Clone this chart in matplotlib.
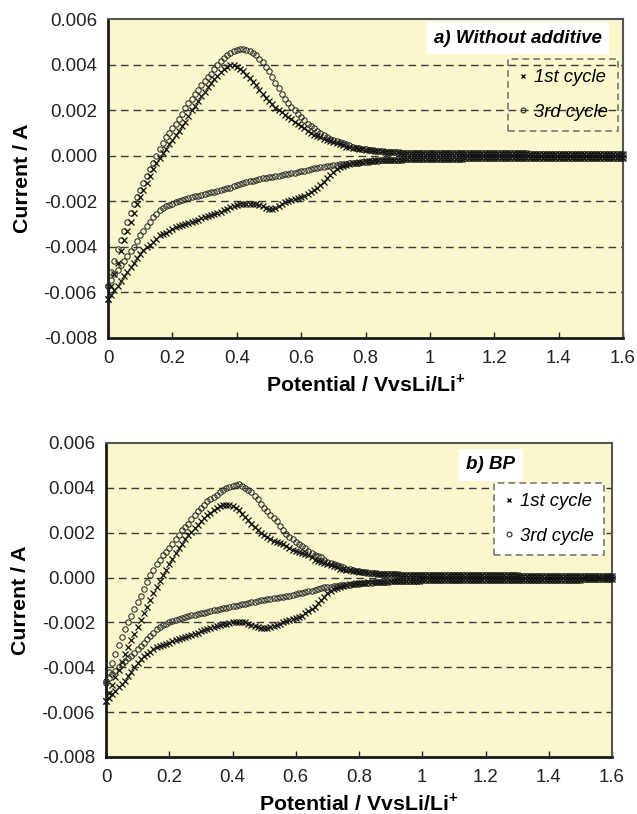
import matplotlib
matplotlib.use("Agg")
import matplotlib.pyplot as plt
from matplotlib.lines import Line2D

plt.rcParams['font.family'] = ['Liberation Sans', 'DejaVu Sans']
plt.rcParams['axes.unicode_minus'] = False
plt.rcParams['mathtext.fontset'] = 'custom'
plt.rcParams['mathtext.rm'] = 'Liberation Sans'
plt.rcParams['mathtext.bf'] = 'Liberation Sans:bold'

# ---------------- data ----------------
potential = [0.00, 0.01, 0.02, 0.03, 0.04, 0.05, 0.06, 0.07, 0.08, 0.09,
             0.10, 0.11, 0.12, 0.13, 0.14, 0.15, 0.16, 0.17, 0.18, 0.19,
             0.20, 0.21, 0.22, 0.23, 0.24, 0.25, 0.26, 0.27, 0.28, 0.29,
             0.30, 0.31, 0.32, 0.33, 0.34, 0.35, 0.36, 0.37, 0.38, 0.39,
             0.40, 0.41, 0.42, 0.43, 0.44, 0.45, 0.46, 0.47, 0.48, 0.49,
             0.50, 0.51, 0.52, 0.53, 0.54, 0.55, 0.56, 0.57, 0.58, 0.59,
             0.60, 0.61, 0.62, 0.63, 0.64, 0.65, 0.66, 0.67, 0.68, 0.69,
             0.70, 0.71, 0.72, 0.73, 0.74, 0.75, 0.76, 0.77, 0.78, 0.79,
             0.80, 0.81, 0.82, 0.83, 0.84, 0.85, 0.86, 0.87, 0.88, 0.89,
             0.90, 0.91, 0.92, 0.93, 0.94, 0.95, 0.96, 0.97, 0.98, 0.99,
             1.00, 1.01, 1.02, 1.03, 1.04, 1.05, 1.06, 1.07, 1.08, 1.09,
             1.10, 1.11, 1.12, 1.13, 1.14, 1.15, 1.16, 1.17, 1.18, 1.19,
             1.20, 1.21, 1.22, 1.23, 1.24, 1.25, 1.26, 1.27, 1.28, 1.29,
             1.30, 1.31, 1.32, 1.33, 1.34, 1.35, 1.36, 1.37, 1.38, 1.39,
             1.40, 1.41, 1.42, 1.43, 1.44, 1.45, 1.46, 1.47, 1.48, 1.49,
             1.50, 1.51, 1.52, 1.53, 1.54, 1.55, 1.56, 1.57, 1.58, 1.59,
             1.60]

# shared flat tails for 0.85 ... 1.60 V (76 points)
anodic_tail = [0.00019, 0.00018, 0.00017, 0.00016, 0.00015, 0.00015, 0.00014, 0.00014, 0.00013, 0.00013,
               0.00012, 0.00012, 0.00012, 0.00011, 0.00011, 0.00011,
               0.0001, 0.0001, 0.0001, 0.0001, 0.0001, 0.0001, 0.0001, 0.0001, 0.0001, 0.0001,
               0.0001, 0.0001, 0.0001, 0.0001, 0.0001, 0.0001, 0.0001, 0.0001, 0.0001, 0.0001,
               0.0001, 0.0001, 0.0001, 0.0001, 0.0001, 0.0001, 0.0001, 0.0001, 0.0001, 0.0001,
               0.00009, 0.00009, 0.00009, 0.00009, 0.00009, 0.00009, 0.00009, 0.00009, 0.00009, 0.00009,
               0.00009, 0.00009, 0.00009, 0.00009, 0.00009, 0.00009, 0.00009, 0.00009, 0.00009, 0.00009,
               0.00009, 0.00009, 0.00009, 0.00009, 0.00009, 0.00009, 0.00009, 0.00009, 0.00009, 0.00009]
cathodic_tail = [-0.00021, -0.0002, -0.00019, -0.00018, -0.00018, -0.00017, -0.00017, -0.00016, -0.00016, -0.00015,
                 -0.00015, -0.00015, -0.00014, -0.00014, -0.00014, -0.00013,
                 -0.00013, -0.00013, -0.00013, -0.00013, -0.00013, -0.00013, -0.00013, -0.00013, -0.00013, -0.00013,
                 -0.00012, -0.00012, -0.00012, -0.00012, -0.00012, -0.00012, -0.00012, -0.00012, -0.00012, -0.00012,
                 -0.00011, -0.00011, -0.00011, -0.00011, -0.00011, -0.00011, -0.00011, -0.00011, -0.00011, -0.00011,
                 -0.0001, -0.0001, -0.0001, -0.0001, -0.0001, -0.0001, -0.0001, -0.0001, -0.0001, -0.0001,
                 -0.00009, -0.00009, -0.00009, -0.00009, -0.00009, -0.00009, -0.00009, -0.00009, -0.00009, -0.00009,
                 -0.00008, -0.00008, -0.00008, -0.00008, -0.00008, -0.00008, -0.00008, -0.00008, -0.00008, -0.00008]

# panel a (without additive), 0.00 ... 0.84 V
a_cycle1_anodic = [-0.0063, -0.0057, -0.0052, -0.0047, -0.0042, -0.0037, -0.0033, -0.0029, -0.0025, -0.0021,
                   -0.0018, -0.0015, -0.0012, -0.0009, -0.0006, -0.0003, -0.0001, 0.0001, 0.0003, 0.0005,
                   0.0007, 0.0009, 0.0011, 0.0013, 0.0015, 0.00175, 0.0020, 0.0022, 0.0024, 0.0026,
                   0.0028, 0.0030, 0.0032, 0.00335, 0.0035, 0.00366, 0.0038, 0.0039, 0.0040, 0.00398,
                   0.0039, 0.0038, 0.0037, 0.00355, 0.0034, 0.00325, 0.0031, 0.0029, 0.0027, 0.00255,
                   0.0024, 0.00225, 0.0021, 0.0020, 0.0019, 0.0018, 0.0017, 0.0016, 0.0015, 0.0014,
                   0.0013, 0.0012, 0.0011, 0.0010, 0.0009, 0.00085, 0.0008, 0.00075, 0.0007, 0.00065,
                   0.0006, 0.00055, 0.0005, 0.00045, 0.0004, 0.00037, 0.00035, 0.00032, 0.0003, 0.00028,
                   0.00026, 0.00024, 0.00023, 0.00021, 0.0002] + anodic_tail
a_cycle3_anodic = [-0.0057, -0.0051, -0.0046, -0.0041, -0.0037, -0.0033, -0.0029, -0.0025, -0.0021, -0.0018,
                   -0.0015, -0.0012, -0.0009, -0.0006, -0.0003, 0.0000, 0.0003, 0.00055, 0.0008, 0.0010,
                   0.0012, 0.0014, 0.0016, 0.00185, 0.0021, 0.0023, 0.0025, 0.0027, 0.0029, 0.0031,
                   0.0033, 0.00345, 0.0036, 0.0038, 0.0040, 0.00415, 0.0043, 0.0044, 0.0045, 0.00458,
                   0.00465, 0.00468, 0.00468, 0.00465, 0.0046, 0.0045, 0.0044, 0.00425, 0.0041, 0.0039,
                   0.0037, 0.00345, 0.0032, 0.00295, 0.0027, 0.0025, 0.0023, 0.00215, 0.0020, 0.00185,
                   0.0017, 0.00155, 0.0014, 0.0013, 0.0012, 0.0011, 0.0010, 0.0009, 0.0008, 0.00075,
                   0.0007, 0.00065, 0.0006, 0.00055, 0.0005, 0.00045, 0.0004, 0.00036, 0.00033, 0.0003,
                   0.00028, 0.00026, 0.00024, 0.00022, 0.0002] + anodic_tail
a_cycle1_cathodic = [-0.0063, -0.0061, -0.0059, -0.0057, -0.0055, -0.0053, -0.0051, -0.0049, -0.0047, -0.0045,
                     -0.0043, -0.00415, -0.0040, -0.0039, -0.0038, -0.00365, -0.0035, -0.00345, -0.0034, -0.0033,
                     -0.0032, -0.00315, -0.0031, -0.00305, -0.0030, -0.00295, -0.0029, -0.00285, -0.0028, -0.00275,
                     -0.0027, -0.00265, -0.0026, -0.00255, -0.0025, -0.00245, -0.0024, -0.00232, -0.00225, -0.0022,
                     -0.00215, -0.00212, -0.0021, -0.0021, -0.0021, -0.0021, -0.0021, -0.00215, -0.0022, -0.00228,
                     -0.00234, -0.00234, -0.0023, -0.0022, -0.0021, -0.00205, -0.0020, -0.00195, -0.0019, -0.00185,
                     -0.0018, -0.00175, -0.0017, -0.0016, -0.0015, -0.0014, -0.0013, -0.00115, -0.0010, -0.00085,
                     -0.0007, -0.0006, -0.0005, -0.00045, -0.0004, -0.00036, -0.00033, -0.0003, -0.00028, -0.00026,
                     -0.00025, -0.00023, -0.00022, -0.00021, -0.0002] + cathodic_tail
a_cycle3_cathodic = [-0.0057, -0.00545, -0.0052, -0.0050, -0.0048, -0.0046, -0.0044, -0.0042, -0.0040, -0.00375,
                     -0.0035, -0.0033, -0.0031, -0.0029, -0.0027, -0.00255, -0.0024, -0.0023, -0.0022, -0.00215,
                     -0.0021, -0.00205, -0.0020, -0.00195, -0.0019, -0.00185, -0.0018, -0.00178, -0.00175, -0.00172,
                     -0.0017, -0.00165, -0.0016, -0.00158, -0.00155, -0.0015, -0.00145, -0.00142, -0.0014, -0.00135,
                     -0.0013, -0.00125, -0.0012, -0.00116, -0.00113, -0.0011, -0.00106, -0.00103, -0.0010, -0.00098,
                     -0.00095, -0.00092, -0.0009, -0.00088, -0.00085, -0.00082, -0.0008, -0.00077, -0.00074, -0.00071,
                     -0.00068, -0.00065, -0.00062, -0.00059, -0.00056, -0.00053, -0.0005, -0.00048, -0.00046, -0.00044,
                     -0.00042, -0.0004, -0.00038, -0.00036, -0.00035, -0.00033, -0.00032, -0.00031, -0.0003, -0.00028,
                     -0.00027, -0.00026, -0.00025, -0.00024, -0.00023] + cathodic_tail

# panel b (BP), 0.00 ... 0.84 V
b_cycle1_anodic = [-0.0055, -0.00515, -0.0048, -0.00445, -0.0041, -0.00375, -0.0034, -0.0031, -0.0028, -0.0025,
                   -0.0022, -0.0019, -0.0016, -0.0013, -0.0010, -0.0007, -0.0004, -0.00015, 0.0001, 0.00035,
                   0.0006, 0.00085, 0.0011, 0.0013, 0.0015, 0.0017, 0.0019, 0.00205, 0.0022, 0.00235,
                   0.0025, 0.00265, 0.0028, 0.0029, 0.0030, 0.0031, 0.0032, 0.00324, 0.00325, 0.00324,
                   0.0032, 0.0031, 0.0030, 0.00285, 0.0027, 0.00255, 0.0024, 0.00225, 0.0021, 0.0020,
                   0.0019, 0.0018, 0.0017, 0.00165, 0.0016, 0.00155, 0.0015, 0.0014, 0.0013, 0.00125,
                   0.0012, 0.00115, 0.0011, 0.00105, 0.0010, 0.0009, 0.0008, 0.00075, 0.0007, 0.00065,
                   0.0006, 0.00055, 0.0005, 0.00045, 0.0004, 0.00037, 0.00035, 0.00032, 0.0003, 0.00028,
                   0.00026, 0.00024, 0.00023, 0.00021, 0.0002] + anodic_tail
b_cycle3_anodic = [-0.0046, -0.0042, -0.0038, -0.0034, -0.0030, -0.00265, -0.0023, -0.0020, -0.0017, -0.0014,
                   -0.0011, -0.0008, -0.0005, -0.0002, 0.0001, 0.00035, 0.0006, 0.0008, 0.0010, 0.00115,
                   0.0013, 0.0015, 0.0017, 0.0019, 0.0021, 0.00225, 0.0024, 0.0026, 0.0028, 0.00295,
                   0.0031, 0.00325, 0.0034, 0.0035, 0.0036, 0.0037, 0.0038, 0.0039, 0.0040, 0.00405,
                   0.0041, 0.00414, 0.00415, 0.0041, 0.0040, 0.0039, 0.0038, 0.00365, 0.0035, 0.0033,
                   0.0031, 0.00295, 0.0028, 0.00265, 0.0025, 0.0023, 0.0021, 0.00195, 0.0018, 0.0017,
                   0.0016, 0.0015, 0.0014, 0.0013, 0.0012, 0.0011, 0.0010, 0.00095, 0.0009, 0.0008,
                   0.0007, 0.00065, 0.0006, 0.00055, 0.0005, 0.00045, 0.0004, 0.00036, 0.00033, 0.0003,
                   0.00028, 0.00026, 0.00024, 0.00022, 0.0002] + anodic_tail
b_cycle1_cathodic = [-0.0055, -0.00535, -0.0052, -0.00505, -0.0049, -0.00475, -0.0046, -0.0044, -0.0042, -0.0040,
                     -0.0038, -0.00365, -0.0035, -0.0034, -0.0033, -0.0032, -0.0031, -0.00305, -0.0030, -0.00295,
                     -0.0029, -0.00285, -0.0028, -0.00275, -0.0027, -0.00265, -0.0026, -0.00255, -0.0025, -0.00245,
                     -0.0024, -0.00235, -0.0023, -0.00225, -0.0022, -0.00215, -0.0021, -0.00207, -0.00205, -0.00202,
                     -0.0020, -0.0020, -0.0020, -0.0020, -0.0020, -0.00205, -0.0021, -0.00215, -0.0022, -0.00224,
                     -0.00225, -0.00224, -0.0022, -0.00215, -0.0021, -0.00205, -0.0020, -0.00195, -0.0019, -0.00185,
                     -0.0018, -0.00175, -0.0017, -0.0016, -0.0015, -0.0014, -0.0013, -0.00115, -0.0010, -0.00085,
                     -0.0007, -0.0006, -0.0005, -0.00045, -0.0004, -0.00036, -0.00033, -0.0003, -0.00028, -0.00026,
                     -0.00025, -0.00023, -0.00022, -0.00021, -0.0002] + cathodic_tail
b_cycle3_cathodic = [-0.0047, -0.0045, -0.0043, -0.00415, -0.0040, -0.00385, -0.0037, -0.0036, -0.0035, -0.00335,
                     -0.0032, -0.00305, -0.0029, -0.00275, -0.0026, -0.00245, -0.0023, -0.0022, -0.0021, -0.00205,
                     -0.0020, -0.00195, -0.0019, -0.00185, -0.0018, -0.00176, -0.00172, -0.00168, -0.00165, -0.00162,
                     -0.0016, -0.00156, -0.00153, -0.0015, -0.00146, -0.00143, -0.0014, -0.00137, -0.00134, -0.00131,
                     -0.00128, -0.00125, -0.00122, -0.00119, -0.00116, -0.00113, -0.0011, -0.00107, -0.00104, -0.00102,
                     -0.0010, -0.00097, -0.00095, -0.00092, -0.0009, -0.00087, -0.00085, -0.00082, -0.0008, -0.00077,
                     -0.00074, -0.00071, -0.00068, -0.00065, -0.00062, -0.00058, -0.00054, -0.0005, -0.00046, -0.00044,
                     -0.00042, -0.0004, -0.00038, -0.00036, -0.00035, -0.00033, -0.00032, -0.00031, -0.0003, -0.00028,
                     -0.00027, -0.00026, -0.00025, -0.00024, -0.00023] + cathodic_tail

x_ticks = [0, 0.2, 0.4, 0.6, 0.8, 1.0, 1.2, 1.4, 1.6]
x_tick_labels = ['0', '0.2', '0.4', '0.6', '0.8', '1', '1.2', '1.4', '1.6']
y_ticks = [-0.008, -0.006, -0.004, -0.002, 0.000, 0.002, 0.004, 0.006]
y_tick_labels = ['-0.008', '-0.006', '-0.004', '-0.002', '0.000', '0.002', '0.004', '0.006']
grid_levels = [-0.006, -0.004, -0.002, 0.000, 0.002, 0.004]
legend_labels = ['1st cycle', '3rd cycle']
titles = ['a) Without additive', 'b) BP']

# ---------------- figure ----------------
W, H = 637, 814
fig = plt.figure(figsize=(W / 100, H / 100), dpi=100)
fig.patch.set_facecolor('white')

def px_axes(l, t, r, b):
    return [l / W, 1 - b / H, (r - l) / W, (b - t) / H]

panels = [
    dict(rect=px_axes(108, 19, 623, 338),
         c1=(a_cycle1_anodic, a_cycle1_cathodic), c3=(a_cycle3_anodic, a_cycle3_cathodic),
         title=titles[0], title_xy=(0.796, 0.940),
         leg_anchor=(0.990, 0.875), leg_face='none'),
    dict(rect=px_axes(106, 443, 612, 757),
         c1=(b_cycle1_anodic, b_cycle1_cathodic), c3=(b_cycle3_anodic, b_cycle3_cathodic),
         title=titles[1], title_xy=(0.760, 0.930),
         leg_anchor=(0.984, 0.873), leg_face='white'),
]

bg = '#FAF7CD'
tick_fs = 13.4
label_fs = 15.3

for p in panels:
    ax = fig.add_axes(p['rect'])
    ax.set_facecolor(bg)
    ax.set_xlim(0, 1.6)
    ax.set_ylim(-0.008, 0.006)
    for lvl in grid_levels:
        ax.axhline(lvl, color='#3a3a3a', lw=1.0, dashes=(5.5, 3.5), zorder=1)

    for branch in p['c3']:
        ax.plot(potential, branch, linestyle='none', marker='o', markersize=3.9,
                markerfacecolor='none', markeredgecolor='#2a2a2a', markeredgewidth=0.75,
                zorder=3, clip_on=False)
    for branch in p['c1']:
        ax.plot(potential, branch, linestyle='none', marker='x', markersize=4.0,
                color='#111111', markeredgewidth=0.9, zorder=4, clip_on=False)

    ax.set_xticks(x_ticks)
    ax.set_xticklabels(x_tick_labels)
    ax.set_yticks(y_ticks)
    ax.set_yticklabels(y_tick_labels)
    ax.tick_params(axis='x', direction='in', length=4, width=1, colors='#222222',
                   labelsize=tick_fs, pad=9, labelcolor='#222222')
    ax.tick_params(axis='y', length=0, labelsize=tick_fs, pad=8, labelcolor='#222222')

    for side in ['left', 'bottom']:
        ax.spines[side].set_color('#1a1a1a')
        ax.spines[side].set_linewidth(2.0)
    for side in ['top', 'right']:
        ax.spines[side].set_color('#555555')
        ax.spines[side].set_linewidth(1.5)

    ax.set_ylabel('Current / A', fontsize=label_fs, fontweight='bold', labelpad=8)
    ax.set_xlabel('Potential / VvsLi/Li$^{\\mathbf{+}}$', fontsize=label_fs,
                  fontweight='bold', labelpad=4)

    ax.text(p['title_xy'][0], p['title_xy'][1], p['title'], transform=ax.transAxes,
            ha='center', va='center', fontsize=13.5, fontweight='bold', fontstyle='italic',
            bbox=dict(boxstyle='square,pad=0.4', facecolor='white', edgecolor='none'),
            zorder=6)

    handles = [
        Line2D([], [], linestyle='none', marker='x', markersize=3.5, color='#111111',
               markeredgewidth=1.0),
        Line2D([], [], linestyle='none', marker='o', markersize=3.5, markerfacecolor='none',
               markeredgecolor='#2a2a2a', markeredgewidth=0.8),
    ]
    leg = ax.legend(handles, legend_labels, loc='upper right', bbox_to_anchor=p['leg_anchor'],
                    bbox_transform=ax.transAxes, borderaxespad=0, frameon=True,
                    fancybox=False, handlelength=0.5, handletextpad=0.35,
                    labelspacing=0.95, borderpad=0.55,
                    prop=dict(family='Liberation Sans', style='italic', size=13.3))
    fr = leg.get_frame()
    fr.set_facecolor(p['leg_face'])
    fr.set_edgecolor('#777777')
    fr.set_linestyle((0, (4, 2.5)))
    fr.set_linewidth(1.2)
    fr.set_alpha(None)
    leg.set_zorder(7)

fig.savefig('out.png', dpi=100, facecolor='white')
